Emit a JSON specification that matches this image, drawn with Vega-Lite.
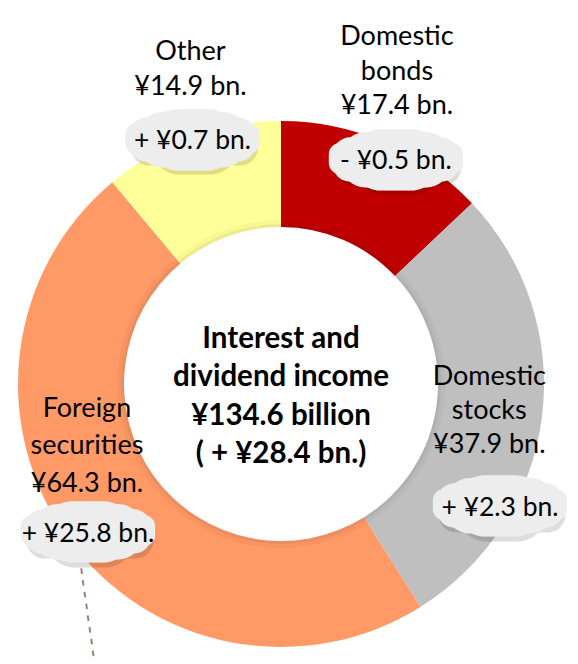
{
  "$schema": "https://vega.github.io/schema/vega-lite/v6.json",
  "autosize": "none",
  "padding": {"left": 0, "top": 104, "right": 16, "bottom": 0},
  "width": 562,
  "height": 560,
  "background": "#ffffff",
  "config": {"view": {"stroke": null}},
  "data": {"values": [
    {"cat": "Domestic bonds", "value": 17.4, "idx": 1, "label": "Domestic\nbonds\n¥17.4 bn.", "change": "- ¥0.5 bn."},
    {"cat": "Domestic stocks", "value": 37.9, "idx": 2, "label": "Domestic\nstocks\n¥37.9 bn.", "change": "+ ¥2.3 bn."},
    {"cat": "Foreign securities", "value": 64.3, "idx": 3, "label": "Foreign\nsecurities\n¥64.3 bn.", "change": "+ ¥25.8 bn."},
    {"cat": "Other", "value": 14.9, "idx": 4, "label": "Other\n¥14.9 bn.", "change": "+ ¥0.7 bn."}
  ]},
  "layer": [
    {"mark": {"type": "arc", "outerRadius": 263, "innerRadius": 157},
     "encoding": {
       "theta": {"field": "value", "type": "quantitative", "stack": true},
       "order": {"field": "idx", "type": "quantitative"},
       "color": {"field": "cat", "type": "nominal", "legend": null,
         "scale": {"domain": ["Domestic bonds", "Domestic stocks", "Foreign securities", "Other"],
                   "range": ["#C00000", "#BFBFBF", "#FF9966", "#FFFF99"]}}}},
    {"mark": {"type": "arc", "outerRadius": 160, "innerRadius": 157, "color": "#000000", "opacity": 0.08},
     "encoding": {"theta": {"field": "value", "type": "quantitative", "stack": true}, "order": {"field": "idx", "type": "quantitative"}}},
    {"mark": {"type": "arc", "outerRadius": 164, "innerRadius": 160, "color": "#000000", "opacity": 0.03},
     "encoding": {"theta": {"field": "value", "type": "quantitative", "stack": true}, "order": {"field": "idx", "type": "quantitative"}}},

    {"data": {"values": [{"t": "Interest and\ndividend income\n¥134.6 billion\n( + ¥28.4 bn.)"}]},
     "mark": {"type": "text", "font": "Lato", "fontWeight": "bold", "fontSize": 29.5, "lineHeight": 38.3, "lineBreak": "\n", "align": "center", "baseline": "middle", "dy": -45, "color": "#000000"},
     "encoding": {"text": {"field": "t", "type": "nominal"}}},

    {"mark": {"type": "text", "radius": 335, "dx": -16.5, "dy": -39, "font": "Lato", "fontSize": 27, "lineHeight": 34.5, "lineBreak": "\n", "align": "center", "baseline": "middle", "color": "#000000"},
     "encoding": {"theta": {"field": "value", "type": "quantitative", "stack": true}, "order": {"field": "idx", "type": "quantitative"},
       "text": {"condition": {"test": "datum.cat === 'Domestic bonds'", "field": "label", "type": "nominal"}, "value": ""}}},
    {"mark": {"type": "text", "radius": 330, "dx": 22, "dy": -21.5, "font": "Lato", "fontSize": 27, "lineHeight": 35, "lineBreak": "\n", "align": "center", "baseline": "middle", "color": "#000000"},
     "encoding": {"theta": {"field": "value", "type": "quantitative", "stack": true}, "order": {"field": "idx", "type": "quantitative"},
       "text": {"condition": {"test": "datum.cat === 'Other'", "field": "label", "type": "nominal"}, "value": ""}}},
    {"mark": {"type": "text", "radius": 210, "dx": 0, "dy": -33.5, "font": "Lato", "fontSize": 27, "lineHeight": 34, "lineBreak": "\n", "align": "center", "baseline": "middle", "color": "#000000"},
     "encoding": {"theta": {"field": "value", "type": "quantitative", "stack": true}, "order": {"field": "idx", "type": "quantitative"},
       "text": {"condition": {"test": "datum.cat === 'Domestic stocks'", "field": "label", "type": "nominal"}, "value": ""}}},
    {"mark": {"type": "text", "radius": 210, "dx": -24, "dy": -98.5, "font": "Lato", "fontSize": 27, "lineHeight": 37.5, "lineBreak": "\n", "align": "center", "baseline": "middle", "color": "#000000"},
     "encoding": {"theta": {"field": "value", "type": "quantitative", "stack": true}, "order": {"field": "idx", "type": "quantitative"},
       "text": {"condition": {"test": "datum.cat === 'Foreign securities'", "field": "label", "type": "nominal"}, "value": ""}}},

    {"mark": {"type": "text", "radius": 210, "dx": 100.7, "dy": 37.9, "angle": 82, "font": "DejaVu Sans", "fontWeight": "bold", "fontSize": 14, "align": "center", "baseline": "middle", "color": "#7f7f7f"},
     "encoding": {"theta": {"field": "value", "type": "quantitative", "stack": true}, "order": {"field": "idx", "type": "quantitative"},
       "text": {"condition": {"test": "datum.cat === 'Foreign securities'", "value": "– – – – – – – –"}, "value": ""}}},

    {"mark": {"type": "text", "radius": 245, "dx": 20, "dy": 4.5, "font": "DejaVu Sans", "fontSize": 33.3, "align": "center", "baseline": "middle", "fill": "#000000", "stroke": "#000000", "strokeWidth": 59, "strokeJoin": "round", "opacity": 0.13},
     "encoding": {"theta": {"field": "value", "type": "quantitative", "stack": true}, "order": {"field": "idx", "type": "quantitative"}, "text": {"condition": {"test": "datum.cat === 'Domestic bonds'", "value": "—"}, "value": ""}}},
    {"mark": {"type": "text", "radius": 245, "dx": 20, "dy": 2.5, "font": "DejaVu Sans", "fontSize": 100, "align": "center", "baseline": "middle", "fill": "#000000", "stroke": "#000000", "strokeWidth": 37.2, "strokeJoin": "round", "opacity": 0.13},
     "encoding": {"theta": {"field": "value", "type": "quantitative", "stack": true}, "order": {"field": "idx", "type": "quantitative"}, "text": {"condition": {"test": "datum.cat === 'Domestic bonds'", "value": "—"}, "value": ""}}},
    {"mark": {"type": "text", "radius": 255, "dx": 0.5, "dy": -0.8, "font": "DejaVu Sans", "fontSize": 33.3, "align": "center", "baseline": "middle", "fill": "#000000", "stroke": "#000000", "strokeWidth": 59, "strokeJoin": "round", "opacity": 0.13},
     "encoding": {"theta": {"field": "value", "type": "quantitative", "stack": true}, "order": {"field": "idx", "type": "quantitative"}, "text": {"condition": {"test": "datum.cat === 'Other'", "value": "—"}, "value": ""}}},
    {"mark": {"type": "text", "radius": 255, "dx": 0.5, "dy": -2.8, "font": "DejaVu Sans", "fontSize": 100, "align": "center", "baseline": "middle", "fill": "#000000", "stroke": "#000000", "strokeWidth": 37.2, "strokeJoin": "round", "opacity": 0.13},
     "encoding": {"theta": {"field": "value", "type": "quantitative", "stack": true}, "order": {"field": "idx", "type": "quantitative"}, "text": {"condition": {"test": "datum.cat === 'Other'", "value": "—"}, "value": ""}}},
    {"mark": {"type": "text", "radius": 210, "dx": 12.7, "dy": 98.9, "font": "DejaVu Sans", "fontSize": 33.3, "align": "center", "baseline": "middle", "fill": "#000000", "stroke": "#000000", "strokeWidth": 59, "strokeJoin": "round", "opacity": 0.13},
     "encoding": {"theta": {"field": "value", "type": "quantitative", "stack": true}, "order": {"field": "idx", "type": "quantitative"}, "text": {"condition": {"test": "datum.cat === 'Domestic stocks'", "value": "—"}, "value": ""}}},
    {"mark": {"type": "text", "radius": 210, "dx": 12.7, "dy": 96.9, "font": "DejaVu Sans", "fontSize": 100, "align": "center", "baseline": "middle", "fill": "#000000", "stroke": "#000000", "strokeWidth": 37.2, "strokeJoin": "round", "opacity": 0.13},
     "encoding": {"theta": {"field": "value", "type": "quantitative", "stack": true}, "order": {"field": "idx", "type": "quantitative"}, "text": {"condition": {"test": "datum.cat === 'Domestic stocks'", "value": "—"}, "value": ""}}},
    {"mark": {"type": "text", "radius": 210, "dx": -21, "dy": 28.3, "font": "DejaVu Sans", "fontSize": 33.3, "align": "center", "baseline": "middle", "fill": "#000000", "stroke": "#000000", "strokeWidth": 59, "strokeJoin": "round", "opacity": 0.13},
     "encoding": {"theta": {"field": "value", "type": "quantitative", "stack": true}, "order": {"field": "idx", "type": "quantitative"}, "text": {"condition": {"test": "datum.cat === 'Foreign securities'", "value": "—"}, "value": ""}}},
    {"mark": {"type": "text", "radius": 210, "dx": -21, "dy": 26.3, "font": "DejaVu Sans", "fontSize": 100, "align": "center", "baseline": "middle", "fill": "#000000", "stroke": "#000000", "strokeWidth": 37.2, "strokeJoin": "round", "opacity": 0.13},
     "encoding": {"theta": {"field": "value", "type": "quantitative", "stack": true}, "order": {"field": "idx", "type": "quantitative"}, "text": {"condition": {"test": "datum.cat === 'Foreign securities'", "value": "—"}, "value": ""}}},

    {"mark": {"type": "text", "radius": 245, "dx": 18, "dy": 0, "font": "DejaVu Sans", "fontSize": 33.3, "align": "center", "baseline": "middle", "fill": "#ededed", "stroke": "#ededed", "strokeWidth": 59, "strokeJoin": "round"},
     "encoding": {"theta": {"field": "value", "type": "quantitative", "stack": true}, "order": {"field": "idx", "type": "quantitative"}, "text": {"condition": {"test": "datum.cat === 'Domestic bonds'", "value": "—"}, "value": ""}}},
    {"mark": {"type": "text", "radius": 245, "dx": 18, "dy": -1, "font": "DejaVu Sans", "fontSize": 66.7, "align": "center", "baseline": "middle", "fill": "#ededed", "stroke": "#ededed", "strokeWidth": 50.8, "strokeJoin": "round"},
     "encoding": {"theta": {"field": "value", "type": "quantitative", "stack": true}, "order": {"field": "idx", "type": "quantitative"}, "text": {"condition": {"test": "datum.cat === 'Domestic bonds'", "value": "—"}, "value": ""}}},
    {"mark": {"type": "text", "radius": 245, "dx": 18, "dy": -2, "font": "DejaVu Sans", "fontSize": 100, "align": "center", "baseline": "middle", "fill": "#ededed", "stroke": "#ededed", "strokeWidth": 37.2, "strokeJoin": "round"},
     "encoding": {"theta": {"field": "value", "type": "quantitative", "stack": true}, "order": {"field": "idx", "type": "quantitative"}, "text": {"condition": {"test": "datum.cat === 'Domestic bonds'", "value": "—"}, "value": ""}}},
    {"mark": {"type": "text", "radius": 245, "dx": 18, "dy": -2.7, "font": "DejaVu Sans", "fontSize": 124.4, "align": "center", "baseline": "middle", "fill": "#ededed", "stroke": "#ededed", "strokeWidth": 22, "strokeJoin": "round"},
     "encoding": {"theta": {"field": "value", "type": "quantitative", "stack": true}, "order": {"field": "idx", "type": "quantitative"}, "text": {"condition": {"test": "datum.cat === 'Domestic bonds'", "value": "—"}, "value": ""}}},

    {"mark": {"type": "text", "radius": 255, "dx": -1.5, "dy": -5.3, "font": "DejaVu Sans", "fontSize": 33.3, "align": "center", "baseline": "middle", "fill": "#ededed", "stroke": "#ededed", "strokeWidth": 59, "strokeJoin": "round"},
     "encoding": {"theta": {"field": "value", "type": "quantitative", "stack": true}, "order": {"field": "idx", "type": "quantitative"}, "text": {"condition": {"test": "datum.cat === 'Other'", "value": "—"}, "value": ""}}},
    {"mark": {"type": "text", "radius": 255, "dx": -1.5, "dy": -6.3, "font": "DejaVu Sans", "fontSize": 66.7, "align": "center", "baseline": "middle", "fill": "#ededed", "stroke": "#ededed", "strokeWidth": 50.8, "strokeJoin": "round"},
     "encoding": {"theta": {"field": "value", "type": "quantitative", "stack": true}, "order": {"field": "idx", "type": "quantitative"}, "text": {"condition": {"test": "datum.cat === 'Other'", "value": "—"}, "value": ""}}},
    {"mark": {"type": "text", "radius": 255, "dx": -1.5, "dy": -7.3, "font": "DejaVu Sans", "fontSize": 100, "align": "center", "baseline": "middle", "fill": "#ededed", "stroke": "#ededed", "strokeWidth": 37.2, "strokeJoin": "round"},
     "encoding": {"theta": {"field": "value", "type": "quantitative", "stack": true}, "order": {"field": "idx", "type": "quantitative"}, "text": {"condition": {"test": "datum.cat === 'Other'", "value": "—"}, "value": ""}}},
    {"mark": {"type": "text", "radius": 255, "dx": -1.5, "dy": -8, "font": "DejaVu Sans", "fontSize": 124.4, "align": "center", "baseline": "middle", "fill": "#ededed", "stroke": "#ededed", "strokeWidth": 22, "strokeJoin": "round"},
     "encoding": {"theta": {"field": "value", "type": "quantitative", "stack": true}, "order": {"field": "idx", "type": "quantitative"}, "text": {"condition": {"test": "datum.cat === 'Other'", "value": "—"}, "value": ""}}},

    {"mark": {"type": "text", "radius": 210, "dx": 10.7, "dy": 94.4, "font": "DejaVu Sans", "fontSize": 33.3, "align": "center", "baseline": "middle", "fill": "#ededed", "stroke": "#ededed", "strokeWidth": 59, "strokeJoin": "round"},
     "encoding": {"theta": {"field": "value", "type": "quantitative", "stack": true}, "order": {"field": "idx", "type": "quantitative"}, "text": {"condition": {"test": "datum.cat === 'Domestic stocks'", "value": "—"}, "value": ""}}},
    {"mark": {"type": "text", "radius": 210, "dx": 10.7, "dy": 93.4, "font": "DejaVu Sans", "fontSize": 66.7, "align": "center", "baseline": "middle", "fill": "#ededed", "stroke": "#ededed", "strokeWidth": 50.8, "strokeJoin": "round"},
     "encoding": {"theta": {"field": "value", "type": "quantitative", "stack": true}, "order": {"field": "idx", "type": "quantitative"}, "text": {"condition": {"test": "datum.cat === 'Domestic stocks'", "value": "—"}, "value": ""}}},
    {"mark": {"type": "text", "radius": 210, "dx": 10.7, "dy": 92.4, "font": "DejaVu Sans", "fontSize": 100, "align": "center", "baseline": "middle", "fill": "#ededed", "stroke": "#ededed", "strokeWidth": 37.2, "strokeJoin": "round"},
     "encoding": {"theta": {"field": "value", "type": "quantitative", "stack": true}, "order": {"field": "idx", "type": "quantitative"}, "text": {"condition": {"test": "datum.cat === 'Domestic stocks'", "value": "—"}, "value": ""}}},
    {"mark": {"type": "text", "radius": 210, "dx": 10.7, "dy": 91.7, "font": "DejaVu Sans", "fontSize": 124.4, "align": "center", "baseline": "middle", "fill": "#ededed", "stroke": "#ededed", "strokeWidth": 22, "strokeJoin": "round"},
     "encoding": {"theta": {"field": "value", "type": "quantitative", "stack": true}, "order": {"field": "idx", "type": "quantitative"}, "text": {"condition": {"test": "datum.cat === 'Domestic stocks'", "value": "—"}, "value": ""}}},

    {"mark": {"type": "text", "radius": 210, "dx": -23, "dy": 23.8, "font": "DejaVu Sans", "fontSize": 33.3, "align": "center", "baseline": "middle", "fill": "#ededed", "stroke": "#ededed", "strokeWidth": 59, "strokeJoin": "round"},
     "encoding": {"theta": {"field": "value", "type": "quantitative", "stack": true}, "order": {"field": "idx", "type": "quantitative"}, "text": {"condition": {"test": "datum.cat === 'Foreign securities'", "value": "—"}, "value": ""}}},
    {"mark": {"type": "text", "radius": 210, "dx": -23, "dy": 22.8, "font": "DejaVu Sans", "fontSize": 66.7, "align": "center", "baseline": "middle", "fill": "#ededed", "stroke": "#ededed", "strokeWidth": 50.8, "strokeJoin": "round"},
     "encoding": {"theta": {"field": "value", "type": "quantitative", "stack": true}, "order": {"field": "idx", "type": "quantitative"}, "text": {"condition": {"test": "datum.cat === 'Foreign securities'", "value": "—"}, "value": ""}}},
    {"mark": {"type": "text", "radius": 210, "dx": -23, "dy": 21.8, "font": "DejaVu Sans", "fontSize": 100, "align": "center", "baseline": "middle", "fill": "#ededed", "stroke": "#ededed", "strokeWidth": 37.2, "strokeJoin": "round"},
     "encoding": {"theta": {"field": "value", "type": "quantitative", "stack": true}, "order": {"field": "idx", "type": "quantitative"}, "text": {"condition": {"test": "datum.cat === 'Foreign securities'", "value": "—"}, "value": ""}}},
    {"mark": {"type": "text", "radius": 210, "dx": -23, "dy": 21.1, "font": "DejaVu Sans", "fontSize": 124.4, "align": "center", "baseline": "middle", "fill": "#ededed", "stroke": "#ededed", "strokeWidth": 22, "strokeJoin": "round"},
     "encoding": {"theta": {"field": "value", "type": "quantitative", "stack": true}, "order": {"field": "idx", "type": "quantitative"}, "text": {"condition": {"test": "datum.cat === 'Foreign securities'", "value": "—"}, "value": ""}}},

    {"mark": {"type": "text", "radius": 245, "dx": 18, "dy": 2.5, "font": "Lato", "fontSize": 26.5, "align": "center", "baseline": "middle", "color": "#000000"},
     "encoding": {"theta": {"field": "value", "type": "quantitative", "stack": true}, "order": {"field": "idx", "type": "quantitative"},
       "text": {"condition": {"test": "datum.cat === 'Domestic bonds'", "field": "change", "type": "nominal"}, "value": ""}}},
    {"mark": {"type": "text", "radius": 255, "dx": -1.5, "dy": -2.8, "font": "Lato", "fontSize": 26.5, "align": "center", "baseline": "middle", "color": "#000000"},
     "encoding": {"theta": {"field": "value", "type": "quantitative", "stack": true}, "order": {"field": "idx", "type": "quantitative"},
       "text": {"condition": {"test": "datum.cat === 'Other'", "field": "change", "type": "nominal"}, "value": ""}}},
    {"mark": {"type": "text", "radius": 210, "dx": 10.7, "dy": 96.9, "font": "Lato", "fontSize": 26.5, "align": "center", "baseline": "middle", "color": "#000000"},
     "encoding": {"theta": {"field": "value", "type": "quantitative", "stack": true}, "order": {"field": "idx", "type": "quantitative"},
       "text": {"condition": {"test": "datum.cat === 'Domestic stocks'", "field": "change", "type": "nominal"}, "value": ""}}},
    {"mark": {"type": "text", "radius": 210, "dx": -23, "dy": 26.3, "font": "Lato", "fontSize": 26.5, "align": "center", "baseline": "middle", "color": "#000000"},
     "encoding": {"theta": {"field": "value", "type": "quantitative", "stack": true}, "order": {"field": "idx", "type": "quantitative"},
       "text": {"condition": {"test": "datum.cat === 'Foreign securities'", "field": "change", "type": "nominal"}, "value": ""}}}
  ]
}
